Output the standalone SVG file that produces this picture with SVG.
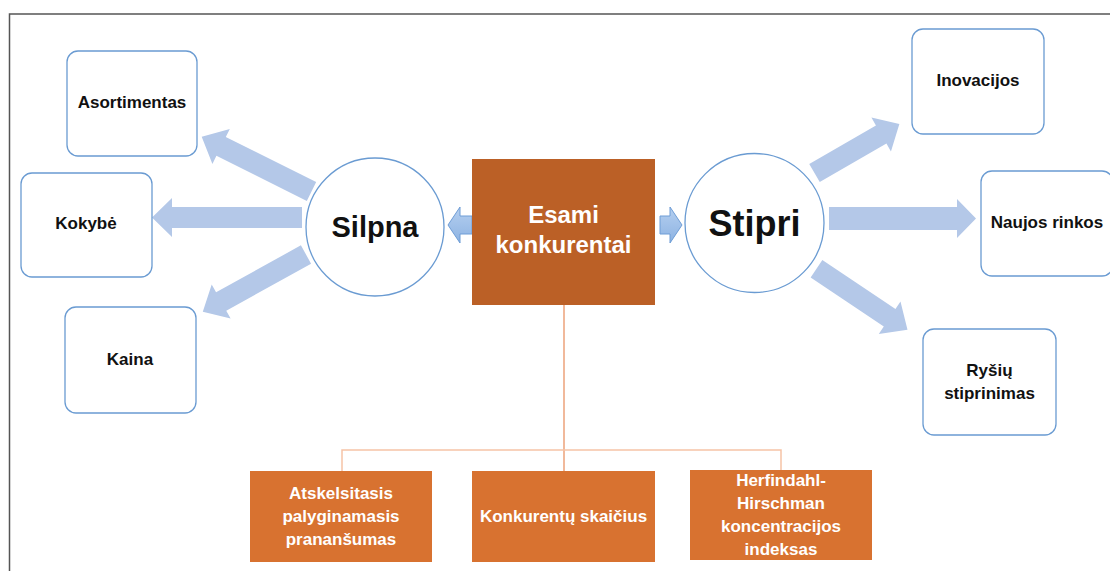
<svg xmlns="http://www.w3.org/2000/svg" width="1110" height="571" viewBox="0 0 1110 571">
  <defs>
    <style>
      .box { fill: #ffffff; stroke: #6a9bd2; stroke-width: 1.3; }
      .circ { fill: #ffffff; stroke: #6a9bd2; stroke-width: 1.3; }
      .lbl { font-family: "Liberation Sans", Arial, sans-serif; font-weight: bold; font-size: 17px; fill: #111111; text-anchor: middle; }
      .big { font-family: "Liberation Sans", Arial, sans-serif; font-weight: bold; fill: #111111; text-anchor: middle; }
      .wht { font-family: "Liberation Sans", Arial, sans-serif; font-weight: bold; fill: #ffffff; text-anchor: middle; }
      .org { fill: #d87230; }
      .fat { fill: #b4c8e8; }
      .small { fill: url(#smallGrad); stroke: #6e9dd6; stroke-width: 1; }
      .trunk { stroke: #eda27a; stroke-width: 1.5; fill: none; }
      .branch { stroke: #f6c3a6; stroke-width: 1.5; fill: none; }
    </style>
    <linearGradient id="smallGrad" x1="0" y1="0" x2="0" y2="1">
      <stop offset="0" stop-color="#b5cff0"/>
      <stop offset="1" stop-color="#8db3e2"/>
    </linearGradient>
  </defs>

  <rect width="1110" height="571" fill="#ffffff"/>
  <!-- outer frame -->
  <rect x="9.5" y="14" width="1200" height="600" fill="none" stroke="#555555" stroke-width="1.5"/>

  <g id="connectors">
    <!-- wide arrows out of Silpna -->
    <path class="fat" transform="translate(311.5,191.5) rotate(206.5)" d="M0,-10.5 H101 V-19.5 L122.7,0 L101,19.5 V10.5 H0 Z"/>
    <path class="fat" transform="translate(302,217.5) rotate(180)" d="M0,-10.5 H130 V-19.5 L150,0 L130,19.5 V10.5 H0 Z"/>
    <path class="fat" transform="translate(306,254.5) rotate(151)" d="M0,-10.5 H97 V-19.5 L118,0 L97,19.5 V10.5 H0 Z"/>
    <!-- wide arrows out of Stipri -->
    <path class="fat" transform="translate(814.5,173) rotate(-30)" d="M0,-10.5 H77 V-19.5 L98,0 L77,19.5 V10.5 H0 Z"/>
    <path class="fat" transform="translate(829,218.5) rotate(0)" d="M0,-11.5 H128 V-19.5 L147,0 L128,19.5 V11.5 H0 Z"/>
    <path class="fat" transform="translate(816.5,268.8) rotate(33.8)" d="M0,-10.5 H88 V-19.5 L109.5,0 L88,19.5 V10.5 H0 Z"/>
    <!-- small arrows from the centre box -->
    <path class="small" d="M472,216 H460 V207 L448,225 L460,243 V234 H472 Z"/>
    <path class="small" d="M660,216 H670 V207 L682,225 L670,243 V234 H660 Z"/>
    <!-- tree to the bottom row -->
    <path class="trunk" d="M564,305 V471"/>
    <path class="branch" d="M342,471 V450 H781 V470"/>
  </g>

  <g id="node-asortimentas">
    <rect class="box" x="67" y="51" width="130" height="105" rx="11"/>
    <text class="lbl" x="132" y="108">Asortimentas</text>
  </g>
  <g id="node-kokybe">
    <rect class="box" x="21" y="173" width="131" height="104" rx="11"/>
    <text class="lbl" x="86" y="229">Kokybė</text>
  </g>
  <g id="node-kaina">
    <rect class="box" x="65" y="307" width="131" height="106" rx="11"/>
    <text class="lbl" x="130" y="365">Kaina</text>
  </g>
  <g id="node-silpna">
    <circle class="circ" cx="375" cy="227" r="69"/>
    <text class="big" x="375" y="237" font-size="29">Silpna</text>
  </g>
  <g id="node-esami">
    <rect x="472" y="159" width="183" height="146" fill="#bb6026"/>
    <text class="wht" x="563.5" y="223" font-size="24">Esami</text>
    <text class="wht" x="563.5" y="253" font-size="24">konkurentai</text>
  </g>
  <g id="node-stipri">
    <circle class="circ" cx="754.5" cy="223" r="69.5"/>
    <text class="big" x="754.5" y="236" font-size="36">Stipri</text>
  </g>
  <g id="node-inovacijos">
    <rect class="box" x="912" y="29" width="132" height="105" rx="11"/>
    <text class="lbl" x="978" y="86">Inovacijos</text>
  </g>
  <g id="node-naujos">
    <rect class="box" x="981" y="171" width="132" height="105" rx="11"/>
    <text class="lbl" x="1047" y="228">Naujos rinkos</text>
  </g>
  <g id="node-rysiu">
    <rect class="box" x="923" y="329" width="133" height="106" rx="11"/>
    <text class="lbl" x="989.5" y="376">Ryšių</text>
    <text class="lbl" x="989.5" y="399">stiprinimas</text>
  </g>

  <g id="node-atskelsitasis">
    <rect class="org" x="250" y="471" width="182" height="91"/>
    <text class="wht" x="341" y="499" font-size="17">Atskelsitasis</text>
    <text class="wht" x="341" y="522" font-size="17">palyginamasis</text>
    <text class="wht" x="341" y="545" font-size="17">prananšumas</text>
  </g>
  <g id="node-konkurentu">
    <rect class="org" x="472" y="471" width="183" height="91"/>
    <text class="wht" x="563.5" y="522" font-size="17">Konkurentų skaičius</text>
  </g>
  <g id="node-herfindahl">
    <rect class="org" x="690" y="470" width="182" height="90"/>
    <text class="wht" x="781" y="486" font-size="17">Herfindahl-</text>
    <text class="wht" x="781" y="509" font-size="17">Hirschman</text>
    <text class="wht" x="781" y="532" font-size="17">koncentracijos</text>
    <text class="wht" x="781" y="555" font-size="17">indeksas</text>
  </g>
</svg>
